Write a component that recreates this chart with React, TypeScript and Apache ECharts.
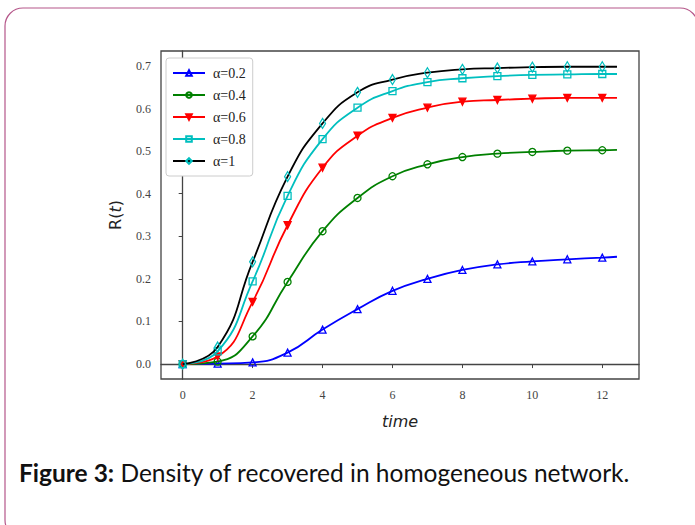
import React, { useEffect, useRef } from "react";
import * as echarts from "echarts";

const times = [0, 1, 2, 3, 4, 5, 6, 7, 8, 9, 10, 11, 12];
const endTime = 12.42;
const xTicks = [0, 2, 4, 6, 8, 10, 12];
const yTicks = [0, 0.1, 0.2, 0.3, 0.4, 0.5, 0.6, 0.7];

const seriesNames = ["α=0.2", "α=0.4", "α=0.6", "α=0.8", "α=1"];
const r02 = [0, 0.001, 0.004, 0.027, 0.081, 0.129, 0.172, 0.2, 0.221, 0.234, 0.241, 0.246, 0.25];
const r04 = [0, 0.006, 0.065, 0.193, 0.312, 0.39, 0.441, 0.469, 0.486, 0.494, 0.498, 0.501, 0.502];
const r06 = [0, 0.018, 0.146, 0.326, 0.461, 0.536, 0.578, 0.602, 0.616, 0.62, 0.623, 0.625, 0.625];
const r08 = [0, 0.03, 0.194, 0.395, 0.528, 0.602, 0.641, 0.662, 0.671, 0.676, 0.679, 0.68, 0.681];
const r10 = [0, 0.04, 0.24, 0.44, 0.565, 0.638, 0.668, 0.684, 0.692, 0.695, 0.697, 0.698, 0.698];
const endValues = [0.252, 0.503, 0.625, 0.681, 0.698];

const caption = "Density of recovered in homogeneous network.";

export default function App() {
  const ref = useRef<HTMLDivElement>(null);
  useEffect(() => {
    if (!ref.current) return;
    const chart = echarts.init(ref.current, null, { renderer: "svg" });
    const all = [r02, r04, r06, r08, r10];
    const styles = [
      { line: "#0000ff", mark: "#0000ff", symbol: "triangle", size: 7, rotate: 0, fill: "transparent" },
      { line: "#008000", mark: "#008000", symbol: "circle", size: 7, rotate: 0, fill: "transparent" },
      { line: "#ff0000", mark: "#ff0000", symbol: "triangle", size: 7, rotate: 180, fill: "#ff0000" },
      { line: "#00bfbf", mark: "#00bfbf", symbol: "rect", size: 7, rotate: 0, fill: "transparent" },
      { line: "#000000", mark: "#00bfbf", symbol: "diamond", size: [6, 10], rotate: 0, fill: "transparent" },
    ];
    const series = all.map((vals, k) => {
      const s = styles[k];
      const data: any[] = times.map((t, i) => [t, vals[i]]);
      data.push({ value: [endTime, endValues[k]], symbol: "none" });
      return {
        name: seriesNames[k],
        type: "line",
        data,
        smooth: 0.5,
        symbol: s.symbol,
        symbolSize: s.size,
        symbolRotate: s.rotate,
        showAllSymbol: true,
        lineStyle: { color: s.line, width: 1.8 },
        itemStyle: { color: s.fill, borderColor: s.mark, borderWidth: 1.3 },
        z: 2 + k,
      };
    });
    const tickStyle = { color: "#444", width: 1 };
    chart.setOption({
      animation: false,
      backgroundColor: "#ffffff",
      grid: {
        left: 161,
        top: 51,
        right: 56,
        bottom: 146,
        show: true,
        borderColor: "#444",
        borderWidth: 1.3,
      },
      legend: {
        orient: "vertical",
        left: 166,
        top: 58,
        itemWidth: 32,
        itemHeight: 7,
        itemGap: 8,
        padding: [8, 7, 8, 6],
        borderColor: "#cccccc",
        borderWidth: 1,
        borderRadius: 3,
        backgroundColor: "#ffffff",
        textStyle: { fontFamily: "Liberation Serif", fontSize: 14, color: "#222", padding: [0, 0, 0, 3] },
        data: seriesNames,
      },
      xAxis: {
        type: "value",
        min: -0.62,
        max: 13.05,
        name: "time",
        nameLocation: "middle",
        nameGap: 34,
        nameTextStyle: { fontFamily: "DejaVu Sans", fontStyle: "italic", fontSize: 16, color: "#222" },
        splitLine: { show: false },
        axisLine: { show: true, lineStyle: { color: "#444", width: 1.3 } },
        axisTick: { show: true, length: 4, lineStyle: tickStyle, customValues: xTicks },
        axisLabel: {
          customValues: xTicks,
          margin: 10,
          fontFamily: "Liberation Serif",
          fontSize: 12,
          color: "#444",
        },
      },
      yAxis: {
        type: "value",
        min: -0.035,
        max: 0.735,
        name: "{a|R(}{b|t}{a|)}",
        nameLocation: "middle",
        nameRotate: 90,
        nameGap: 38,
        nameTextStyle: {
          rich: {
            a: { fontFamily: "DejaVu Sans", fontSize: 16, color: "#222" },
            b: { fontFamily: "DejaVu Sans", fontStyle: "italic", fontSize: 16, color: "#222" },
          },
        },
        splitLine: { show: false },
        axisLine: { show: true, lineStyle: { color: "#444", width: 1.3 } },
        axisTick: { show: true, length: 4, lineStyle: tickStyle, customValues: yTicks },
        axisLabel: {
          customValues: yTicks,
          margin: 10,
          fontFamily: "Liberation Serif",
          fontSize: 12,
          color: "#444",
          formatter: (v: number) => v.toFixed(1),
        },
      },
      graphic: [
        {
          type: "rect",
          shape: { x: 5, y: 8, width: 693, height: 530, r: 18 },
          style: { fill: "none", stroke: "#b5578a", lineWidth: 1.2 },
          silent: true,
          z: -10,
        },
        {
          type: "text",
          left: 19,
          top: 460,
          style: {
            text: "{b|Figure 3:} {n|" + caption + "}",
            rich: {
              b: { fontFamily: "Lato", fontWeight: "bold", fontSize: 24.5, fill: "#111" },
              n: { fontFamily: "Lato", fontSize: 24.5, fill: "#111" },
            },
            fontFamily: "Lato",
            fontSize: 24.5,
          },
        },
      ],
      series,
    });
    return () => chart.dispose();
  }, []);
  return (
    <div
      ref={ref}
      style={{ position: "fixed", left: 0, top: 0, width: 695, height: 525, background: "#fff" }}
    />
  );
}
